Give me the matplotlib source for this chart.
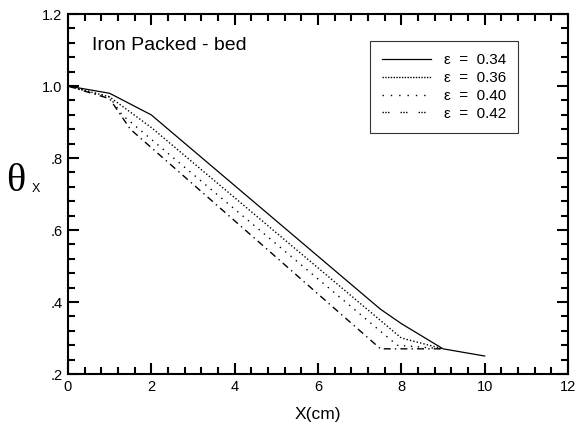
import matplotlib
matplotlib.use("Agg")
import matplotlib.pyplot as plt
from matplotlib.ticker import MultipleLocator, FixedLocator, FixedFormatter
from matplotlib.lines import Line2D

plt.rcParams['font.family'] = ['Liberation Sans', 'DejaVu Sans']

# data
x_034 = [0, 1, 2, 7.5, 8, 9, 10]
y_034 = [1.0, 0.98, 0.92, 0.38, 0.34, 0.27, 0.25]
x_036 = [0, 1, 2, 8, 9]
y_036 = [1.0, 0.97, 0.885, 0.30, 0.27]
x_040 = [0, 1, 1.3, 7.9, 9]
y_040 = [1.0, 0.97, 0.92, 0.28, 0.27]
x_042 = [0, 1, 1.5, 7.5, 9]
y_042 = [1.0, 0.965, 0.88, 0.27, 0.27]

labels = ["0.34", "0.36", "0.40", "0.42"]
ytick_vals = [0.2, 0.4, 0.6, 0.8, 1.0, 1.2]
ytick_text = [".2", ".4", ".6", ".8", "1.0", "1.2"]

styles = ['-', (0, (1, 1.5)), (0, (1, 4)), (0, (5, 3, 1, 3))]

fig = plt.figure(figsize=(5.75, 4.26), dpi=100)
ax = fig.add_axes([0.118, 0.122, 0.870, 0.845])

ax.plot(x_034, y_034, color='black', lw=0.9, ls=styles[0])
ax.plot(x_036, y_036, color='black', lw=1.0, ls=styles[1])
ax.plot(x_040, y_040, color='black', lw=1.0, ls=styles[2])
ax.plot(x_042, y_042, color='black', lw=1.0, ls=styles[3])

ax.set_xlim(0, 12)
ax.set_ylim(0.2, 1.2)
ax.xaxis.set_major_locator(MultipleLocator(2))
ax.xaxis.set_minor_locator(MultipleLocator(0.4))
ax.yaxis.set_major_locator(FixedLocator(ytick_vals))
ax.yaxis.set_major_formatter(FixedFormatter(ytick_text))
ax.yaxis.set_minor_locator(MultipleLocator(0.04))

ax.tick_params(which='both', direction='in', top=True, right=True, width=1.5, labelsize=10.5)
ax.tick_params(which='major', length=8, pad=4)
ax.tick_params(which='minor', length=5)
for s in ax.spines.values():
    s.set_linewidth(1.5)

ax.set_xlabel("X(cm)", fontsize=12.5, labelpad=10)
fig.text(0.010, 0.574, "\u03b8", fontsize=29, family='Liberation Serif', ha='left', va='center')
fig.text(0.056, 0.556, "X", fontsize=9, ha='left', va='center')

ax.text(0.048, 0.9, "Iron Packed - bed", transform=ax.transAxes, fontsize=14)

# legend: short sample lines, boxed
handles = [
    Line2D([], [], color='black', lw=0.9, ls='-'),
    Line2D([], [], color='black', lw=1.0, ls=(0, (1, 1))),
    Line2D([], [], color='black', lw=1.0, ls=(0, (1, 5))),
    Line2D([], [], color='black', lw=1.0, ls=(0, (1, 1, 1, 1, 1, 8))),
]
leg = ax.legend(handles, ["\u03b5  =  " + l for l in labels], loc='upper right',
                bbox_to_anchor=(0.9, 0.925), fontsize=11, frameon=True,
                fancybox=False, edgecolor='black', handlelength=3.2,
                labelspacing=0.25, borderpad=0.8, handletextpad=0.8,
                borderaxespad=0)
leg.get_frame().set_linewidth(0.8)

fig.savefig("out.png", dpi=100)
